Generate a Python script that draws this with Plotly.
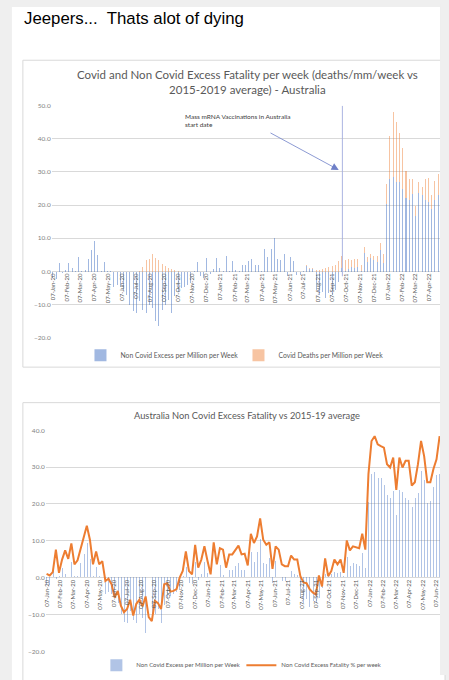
import pandas as pd
import plotly.graph_objects as go

W, H = 449, 680

# weekly data, first week 07-Jan-20
first_week = "2020-01-07"

# Non Covid Excess per Million per Week (same bars in both charts)
non_covid_excess = [
    -2.0, -2.2, 2.7, -0.5, 0.5, 2.6, 1.0, 0.2, 4.3, 0.3, 0.5, 3.8, 6.4, 9.3, 5.0, 0.3, 2.8, 0.3, 0.2,
    -4.5, -4.0, -4.5, -5.5, -7.0, -10.0, -12.0, -12.5, -9.0, -11.5, -12.5, -10.0, -11.0, -15.0, -16.5,
    -11.5, -10.0, -8.5, -12.5, -7.5, -6.0, -5.0, -4.5, -4.0, -3.5,
    0.3, 2.9, -1.4, -1.9, 4.1, -0.8, 0.9, 4.1, 1.1, 0.2, 4.8, 0.2, 3.3, 0.6, 0.2, 1.9, 1.9, 3.1, 3.9,
    2.1, 2.1, 0.2, 6.8, 4.3, 6.8, 10.3, 3.8, 3.6, 5.3, -1.4, 4.4, 3.3, -0.9, -0.9, 0.2, 1.8, 0.9, 0.7,
    -5.5, -7.0, -6.0, -8.0, -6.5, -7.0, -5.5, -3.0, 1.0, 0.3, 0.8, 1.5, 1.2, 1.5, 0.3, 5.5, 3.0, 4.0,
    3.5, 3.0, 6.5, 2.5,
    20.4, 28.0, 28.5, 27.0, 27.0, 25.0, 22.3, 21.5, 23.5, 16.8, 23.6, 23.2, 21.5, 21.0, 19.0, 21.5,
    23.0, 28.8, 26.3, 20.3, 20.7, 24.6, 27.7, 28.0,
]

# Covid Deaths per Million per Week
covid_deaths = [0.0] * 27 + [
    0.3, 1.5, 3.4, 3.8, 5.2, 4.2, 3.5, 2.2, 1.6, 1.1, 0.8, 0.4, 0.2,
] + [0.0] * 39 + [
    0.1, 0.2, 0.3, 0.5, 0.6, 0.8, 1.2, 1.5, 1.6, 2.1, 3.1, 3.6, 3.1, 3.0, 1.9, 2.7, 2.4, 1.6,
    2.0, 1.4, 1.3, 1.1, 1.6, 2.0, 2.8,
    6.0, 13.0, 19.7, 18.2, 15.0, 12.3, 8.1, 6.4, 4.6, 3.1, 3.5, 2.5, 6.4, 7.2, 4.1, 5.9, 6.4,
    5.0, 5.0, 4.5, 4.5, 4.0, 4.0, 4.0,
]

# Non Covid Excess Fatality % per week
excess_pct = [
    1.0, 0.6, 1.5, 7.6, 1.3, 4.9, 7.4, 5.1, 9.3, 3.6, 4.7, 8.0, 10.7, 14.1, 10.3, 3.6, 7.1, 3.6,
    4.5, -0.9, -0.3, -1.8, -5.4, -3.6, -7.6, -9.4, -8.5, -6.0, -10.3, -7.1, -6.0, -7.8, -5.1, -10.7,
    -11.8, -6.3, -6.9, -8.5, -1.8, -1.5, -3.8, -3.6, -3.1, 0.0, 1.8, 7.1, 1.8, 0.9, 8.9, 2.7, 4.9,
    8.5, 4.5, 0.9, 9.6, 3.6, 8.0, 7.6,
    2.7, 6.3, 6.3, 7.4, 8.7, 6.3, 6.5, 3.3, 11.9, 9.4, 11.2, 16.1, 10.3, 8.9, 9.6, 2.4, 8.5, 7.6,
    3.6, 3.1, 3.1, 6.0, 4.9, 4.9, 0.4, -1.3, -1.5, -3.1, -4.0, -4.6, 0.6, -2.4, 5.2, 0.4, 1.8, 4.9,
    3.6, 4.9, 1.3, 10.1, 7.4, 8.5, 8.3, 8.0, 11.9, 7.6,
    28.1, 37.1, 38.4, 36.2, 35.7, 35.3, 30.8, 29.9, 32.6, 23.8, 32.6, 29.9, 31.7, 31.7, 25.0, 25.9,
    30.8, 37.1, 33.0, 25.9, 25.9, 29.5, 32.1, 38.4,
]

weeks = pd.date_range(first_week, periods=len(non_covid_excess), freq="7D")

vacc_start = "2021-09-30"

BLUE = "rgba(68,114,196,0.5)"
BLUE2 = "rgba(68,114,196,0.42)"
ORANGE = "rgba(237,125,49,0.45)"
LINE_ORANGE = "#ED7D31"
GREY_TXT = "#595959"
GRID = "#d9d9d9"
FONT = "Lato"
BAR_W = 2.2 * 86400000


def px_x(p):
    return p / W


def px_y(p):
    return 1 - p / H


def zero_pos(dom, rng):
    return dom[0] + (0 - rng[0]) / (rng[1] - rng[0]) * (dom[1] - dom[0])


y1_dom = [px_y(338), px_y(103)]
y2_dom = [px_y(656), px_y(432)]
y1_rng = [-20, 50]
y2_rng = [-20, 40]

fig = go.Figure()

# Chart 1 - stacked bars
fig.add_trace(go.Bar(x=weeks, y=non_covid_excess, width=BAR_W, marker_color=BLUE,
                     marker_line_width=0, name="Non Covid Excess per Million per Week",
                     xaxis="x", yaxis="y", legend="legend"))
fig.add_trace(go.Bar(x=weeks, y=covid_deaths, width=BAR_W, marker_color=ORANGE,
                     marker_line_width=0, name="Covid Deaths per Million per Week",
                     xaxis="x", yaxis="y", legend="legend"))

# Chart 2 - bars + line
fig.add_trace(go.Bar(x=weeks, y=non_covid_excess, width=BAR_W, marker_color=BLUE2,
                     marker_line_width=0, name="Non Covid Excess per Million per Week",
                     xaxis="x2", yaxis="y2", legend="legend2"))
fig.add_trace(go.Scatter(x=weeks, y=excess_pct, mode="lines",
                         line=dict(color=LINE_ORANGE, width=2),
                         name="Non Covid Excess Fatality % per week",
                         xaxis="x2", yaxis="y2", legend="legend2"))

xaxis_common = dict(type="date", dtick="M1", tick0=first_week, tickformat="%d-%b-%y",
                    tickangle=-90, showgrid=False, zeroline=False, showline=False,
                    ticks="", tickfont=dict(family=FONT, size=6, color=GREY_TXT),
                    anchor="free")
yaxis_common = dict(dtick=10, tickformat=".1f", gridcolor=GRID, gridwidth=1, zeroline=False,
                    showline=False, ticks="", tickfont=dict(family=FONT, size=6.5, color="#7f7f7f"))

legend_common = dict(orientation="h", xanchor="left", yanchor="middle", bgcolor="rgba(0,0,0,0)",
                     itemwidth=30)

fig.update_layout(
    width=W, height=H, autosize=False,
    margin=dict(l=0, r=0, t=0, b=0),
    paper_bgcolor="#efefef", plot_bgcolor="rgba(0,0,0,0)",
    barmode="relative", bargap=0,
    xaxis=dict(xaxis_common, domain=[px_x(49), px_x(440)], range=["2020-01-05", "2022-05-01"],
               position=zero_pos(y1_dom, y1_rng)),
    yaxis=dict(yaxis_common, domain=y1_dom, range=y1_rng, anchor="x"),
    xaxis2=dict(xaxis_common, domain=[px_x(43), px_x(440)], range=["2020-01-05", "2022-06-15"],
                position=zero_pos(y2_dom, y2_rng)),
    yaxis2=dict(yaxis_common, domain=y2_dom, range=y2_rng, anchor="x2"),
    legend=dict(legend_common, x=px_x(78), y=px_y(356), entrywidth=113,
                font=dict(family=FONT, size=6.8, color=GREY_TXT)),
    legend2=dict(legend_common, x=px_x(94), y=px_y(670), entrywidth=100,
                 font=dict(family=FONT, size=6, color=GREY_TXT)),
    showlegend=True,
)

shapes = [
    # white page
    dict(type="rect", xref="paper", yref="paper", x0=px_x(9), x1=px_x(440), y0=px_y(690), y1=px_y(3),
         fillcolor="white", line_width=0, layer="below"),
    # chart boxes
    dict(type="rect", xref="paper", yref="paper", x0=px_x(20), x1=px_x(445), y0=px_y(368), y1=px_y(57),
         fillcolor="white", line=dict(color=GRID, width=1), layer="below"),
    dict(type="rect", xref="paper", yref="paper", x0=px_x(20), x1=px_x(445), y0=px_y(690), y1=px_y(404),
         fillcolor="white", line=dict(color=GRID, width=1), layer="below"),
    # vaccination start line
    dict(type="line", xref="x", yref="y", x0=vacc_start, x1=vacc_start, y0=-1.5, y1=50,
         line=dict(color="#a3addf", width=0.9)),
    # right grey strip (cropped screenshot)
    dict(type="rect", xref="paper", yref="paper", x0=px_x(440), x1=1, y0=0, y1=1,
         fillcolor="#efefef", line_width=0, layer="above"),
]
fig.update_layout(shapes=shapes)

annotations = [
    dict(text="Jeepers...&nbsp; Thats alot of dying", xref="paper", yref="paper",
         x=px_x(19), y=px_y(15), xanchor="left", yanchor="middle", showarrow=False,
         font=dict(family="Liberation Sans", size=16.8, color="black")),
    dict(text="Covid and Non Covid Excess Fatality per week (deaths/mm/week vs<br>2015-2019 average) - Australia",
         xref="paper", yref="paper", x=px_x(246), y=px_y(79), xanchor="center", yanchor="middle",
         showarrow=False, font=dict(family=FONT, size=11.5, color=GREY_TXT)),
    dict(text="Australia Non Covid Excess Fatality vs 2015-19 average",
         xref="paper", yref="paper", x=px_x(246), y=px_y(417), xanchor="center", yanchor="middle",
         showarrow=False, font=dict(family=FONT, size=9.3, color=GREY_TXT)),
    dict(text="Mass mRNA Vaccinations in Australia<br>start date", xref="x", yref="y",
         x="2020-10-17", y=45.5, xanchor="left", yanchor="middle", align="left", showarrow=False,
         font=dict(family=FONT, size=6.5, color="#404040")),
    dict(text="", xref="x", yref="y", x="2021-09-22", y=30.6, axref="x", ayref="y",
         ax="2021-04-23", ay=42, showarrow=True, arrowhead=2, arrowsize=1.8, arrowwidth=0.8,
         arrowcolor="#6f80c8"),
]
fig.update_layout(annotations=annotations)

fig.write_html("out.html", config={"displayModeBar": False},
               post_script="document.body.style.margin='0';")
